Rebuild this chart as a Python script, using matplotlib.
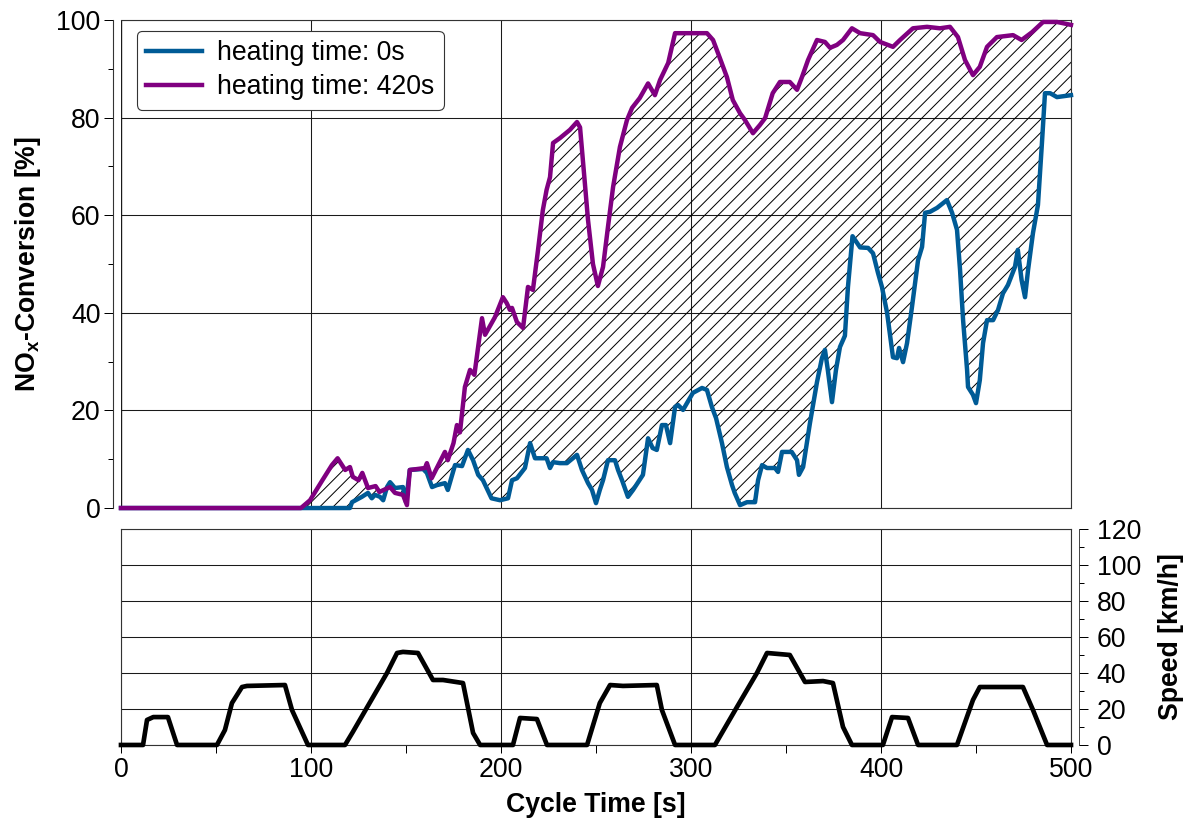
"""
NOx conversion for two heating times, with the vehicle speed trace below.
"""

import matplotlib.pyplot as plt
import numpy as np
from matplotlib.ticker import MultipleLocator

# NOx conversion, heating time 0 s  [s], [%]
t_0s = [0, 120.5, 121.6, 126.8, 130, 132, 133.7, 136.3, 138, 140, 141.6, 144.2,
        148.4, 150, 152, 159, 161, 163.7, 166.3, 170.5, 172, 175.8, 179.5,
        182.6, 185.3, 188, 190.5, 195, 199.5, 203.7, 205.8, 208.4, 212.6,
        215.3, 217.9, 224, 225.8, 227.4, 231, 234.7, 240, 242.6, 245.8, 247.9,
        250, 252, 253.7, 256.3, 260, 261.6, 263.7, 266.8, 269.5, 274.7, 277.4,
        279.8, 282, 284.7, 286.8, 289, 291.6, 293.2, 295.8, 301, 305.8, 308.4,
        311, 313.2, 316.3, 318.9, 321.6, 323, 325.8, 329.5, 333.7, 335.3,
        337.4, 340, 344.2, 345.8, 347.9, 353, 355.8, 356.8, 359, 362.6, 366.3,
        368.9, 370.5, 372, 374.2, 376.3, 378.4, 381, 382.6, 385, 389, 393.2,
        395.8, 398.4, 400.5, 403.2, 406.3, 408.4, 409.5, 411.6, 413.7, 416.3,
        419.5, 421.6, 423.2, 425.8, 429.5, 434.7, 437.4, 440, 441.6, 443.2,
        445.3, 445.8, 448.4, 450, 452, 453.7, 455.8, 459, 461.6, 464.2, 466.8,
        470.5, 472, 474, 475.8, 477.4, 480, 482.6, 484.7, 486.3, 489, 492.6,
        500]
conv_0s = [0, 0, 1.2, 2.3, 3.1, 2.0, 2.7, 2.3, 1.6, 4.3, 5.3, 4.1,
           4.3, 1.2, 7.8, 8.0, 7.2, 4.3, 4.7, 5.1, 3.7, 8.8, 8.6,
           11.9, 9.8, 6.8, 5.7, 2.0, 1.6, 2.0, 5.7, 6.1, 8.2,
           13.3, 10.2, 10.2, 8.2, 9.4, 9.2, 9.2, 10.9, 7.8, 5.1, 3.7,
           1.0, 3.7, 5.7, 9.8, 9.8, 7.8, 5.7, 2.3, 3.7, 6.8, 14.3,
           12.3, 11.9, 17.0, 17.0, 13.3, 20.7, 21.1, 20.1, 23.6, 24.6, 24.2,
           20.7, 18.4, 13.3, 8.4, 4.7, 3.1, 0.6, 1.2, 1.2, 5.7,
           8.8, 8.2, 8.2, 7.4, 11.5, 11.5, 9.8, 6.8, 8.4, 17.4, 25.8,
           30.7, 32.4, 28.3, 21.7, 28.3, 33.0, 35.3, 45.3, 55.7, 53.4, 53.3,
           52.2, 48.2, 45.3, 40.0, 30.9, 30.7, 32.8, 29.9, 33.8, 41.2,
           50.8, 53.5, 60.5, 60.7, 61.5, 63.1, 60.5, 57.0, 48.8, 38.5,
           28.3, 24.8, 23.2, 21.5, 26.2, 33.8, 38.5, 38.5, 40.6, 44.0, 45.7,
           49.4, 52.9, 46.7, 43.2, 48.8, 56.4, 62.1, 74.8, 85.0, 85.0, 84.2,
           84.6]

# NOx conversion, heating time 420 s  [s], [%]
t_420s = [0, 94.7, 99.5, 106, 111, 114, 118, 120.5, 122, 125, 127, 130, 134,
          136, 141.6, 144.2, 148.4, 150.5, 152, 160, 161, 163.5, 167, 170.5,
          172, 175, 176.8, 178.4, 181, 183.7, 186, 190, 191.6, 196.8, 201,
          203, 204.7, 205.8, 208.4, 211.6, 214.2, 216.8, 219.5, 222, 224,
          225.8, 227.4, 231, 236.3, 240, 241.6, 244, 245.8, 248.4, 251, 253.7,
          256.3, 259, 262.6, 266.3, 269, 273, 277.4, 281, 283.7, 288, 291.6,
          297.8, 308.4, 311.6, 315, 318.9, 322, 325.8, 328.4, 332.6, 336.3,
          339, 343, 346.8, 352, 355.8, 358.4, 361.6, 366.3, 370.5, 373.2,
          376.8, 380, 384.7, 389, 395.8, 399.5, 406.3, 410, 416.8, 424.2, 431,
          436.3, 440.5, 444.2, 448.4, 452, 455.8, 461, 469.5, 474, 479.5,
          485.3, 492.6, 500]
conv_420s = [0, 0, 1.6, 5.7, 8.8, 10.2, 7.8, 8.4, 6.4, 5.7, 7.2, 4.1, 4.5,
             3.3, 4.3, 3.1, 2.7, 0.6, 7.8, 8.2, 9.2, 6.1, 8.8, 11.5,
             9.8, 13.3, 17.0, 15.5, 24.8, 28.3, 27.3, 38.9, 35.5, 39.1, 43.2,
             42.0, 40.6, 41.0, 38.1, 36.9, 45.3, 44.7, 52.9, 61.0, 65.2,
             67.8, 74.8, 75.8, 77.5, 79.1, 78.0, 67.2, 59.0, 50.0, 45.5, 49.4,
             57.6, 65.8, 74.0, 79.5, 82.0, 84.0, 87.0, 84.6, 87.7, 91.2, 97.3,
             97.3, 97.3, 95.9, 92.4, 88.3, 83.6, 80.9, 79.5, 76.8, 78.5,
             79.9, 85.0, 87.3, 87.3, 85.7, 88.3, 91.8, 95.9, 95.5, 94.3,
             94.9, 95.9, 98.3, 97.3, 96.9, 95.5, 94.5, 95.9, 98.3, 98.6, 98.3,
             98.6, 96.5, 91.8, 88.7, 90.4, 94.5, 96.5, 96.9, 95.9, 97.5,
             99.6, 99.6, 99.0]

# vehicle speed  [s], [km/h]
t_speed = [0, 11.6, 13.7, 17, 24.7, 29.5, 50.5, 54.7, 58.4, 63.7, 66.3, 86.3,
           90, 98.4, 117.9, 122, 140, 145.3, 148.4, 156.3, 164.2, 169.5, 180,
           185.3, 189, 206.3, 210, 218.9, 224.2, 245.3, 252, 257.4, 264.2, 282,
           284.7, 291.6, 312.6, 324.2, 334.7, 340, 352, 360, 369.5, 374.7, 380,
           384.7, 401, 405.8, 414.2, 419.5, 440, 448.4, 452, 474.7, 480, 487.4,
           500]
speed = [0, 0, 13.9, 15.5, 15.5, 0, 0, 8.3, 23.3, 32.2, 32.8, 33.3,
         19.4, 0, 0, 7.2, 40.0, 51.1, 51.7, 51.1, 36.1, 36.1, 34.4,
         6.7, 0, 0, 15.0, 14.4, 0, 0, 23.3, 33.3, 32.8, 33.3,
         19.4, 0, 0, 21.1, 40.0, 51.1, 50.0, 35.0, 35.5, 34.4, 10.0,
         0, 0, 15.5, 15.0, 0, 0, 25.0, 32.2, 32.2, 19.4, 0,
         0]

BLUE = '#005b96'
PURPLE = '#800080'

plt.rcParams['font.family'] = 'Liberation Sans'
plt.rcParams['mathtext.fontset'] = 'custom'
plt.rcParams['mathtext.rm'] = 'Liberation Sans'
plt.rcParams['mathtext.bf'] = 'Liberation Sans:bold'
plt.rcParams['font.size'] = 24
plt.rcParams['hatch.linewidth'] = 0.9

DPI = 80
fig = plt.figure(figsize=(1192 / DPI, 823 / DPI), dpi=DPI)
ax = fig.add_axes([0.1015, 0.3827, 0.797, 0.593])
axs = fig.add_axes([0.1015, 0.0948, 0.797, 0.2625])

grid_kw = dict(color='#1a1a1a', linewidth=0.95)

# ---- upper panel: conversion
ax.fill(np.concatenate([t_420s, t_0s[::-1]]),
        np.concatenate([conv_420s, conv_0s[::-1]]),
        facecolor='none', edgecolor='k', hatch='//', linewidth=0, zorder=1)
ax.plot(t_0s, conv_0s, color=BLUE, lw=4.0, label='heating time: 0s',
        clip_on=False, zorder=3, solid_joinstyle='round')
ax.plot(t_420s, conv_420s, color=PURPLE, lw=4.0, label='heating time: 420s',
        clip_on=False, zorder=3, solid_joinstyle='round')

ax.set_xlim(0, 500)
ax.set_ylim(0, 100)
ax.xaxis.set_major_locator(MultipleLocator(100))
ax.yaxis.set_major_locator(MultipleLocator(20))
ax.yaxis.set_minor_locator(MultipleLocator(10))
ax.tick_params(axis='x', which='both', length=0, labelbottom=False)
ax.tick_params(axis='y', which='major', direction='out', length=8, width=0.9)
ax.tick_params(axis='y', which='minor', direction='out', length=4.5, width=0.9)
ax.grid(True, which='major', **grid_kw)
ax.set_axisbelow(True)
ax.spines['left'].set_position(('outward', 7))
ax.spines['left'].set_bounds(0, 100)
for s in ax.spines.values():
    s.set_color('#333333')
    s.set_linewidth(1.0)
ax.axvline(0, color='#1a1a1a', lw=1.2, zorder=0.5)
ax.set_ylabel(r'NO$_\mathbf{x}$-Conversion [%]', fontweight='bold', labelpad=12)

leg = ax.legend(loc='upper left', bbox_to_anchor=(0.0168, 0.9775),
                borderaxespad=0, fancybox=True, framealpha=1,
                edgecolor='#333333', handlelength=2.1, handletextpad=0.55,
                labelspacing=0.3, borderpad=0.35, fontsize=24)
leg.get_frame().set_linewidth(1.0)

# ---- lower panel: speed
axs.plot(t_speed, speed, color='k', lw=4.2, clip_on=False, zorder=3,
         solid_joinstyle='round')
axs.set_xlim(0, 500)
axs.set_ylim(0, 120)
axs.xaxis.set_major_locator(MultipleLocator(100))
axs.xaxis.set_minor_locator(MultipleLocator(50))
axs.yaxis.set_major_locator(MultipleLocator(20))
axs.tick_params(axis='y', which='both', length=0, labelleft=False)
axs.tick_params(axis='x', which='major', direction='out', length=7, width=0.9)
axs.tick_params(axis='x', which='minor', direction='out', length=7, width=0.9)
axs.grid(True, which='major', **grid_kw)
axs.set_axisbelow(True)
for s in axs.spines.values():
    s.set_color('#333333')
    s.set_linewidth(1.0)
axs.set_xlabel('Cycle Time [s]', fontweight='bold', labelpad=8)

axr = axs.twinx()
axr.set_ylim(0, 120)
axr.yaxis.set_major_locator(MultipleLocator(20))
axr.yaxis.set_minor_locator(MultipleLocator(10))
axr.spines['right'].set_position(('outward', 7))
for name in ('left', 'top', 'bottom'):
    axr.spines[name].set_visible(False)
axr.spines['right'].set_color('#333333')
axr.tick_params(axis='y', which='major', direction='out', length=8, width=0.9,
                pad=8)
axr.tick_params(axis='y', which='minor', direction='out', length=4.5, width=0.9)
axr.set_ylabel('Speed [km/h]', fontweight='bold', labelpad=15)

fig.savefig('out.png', dpi=DPI)
